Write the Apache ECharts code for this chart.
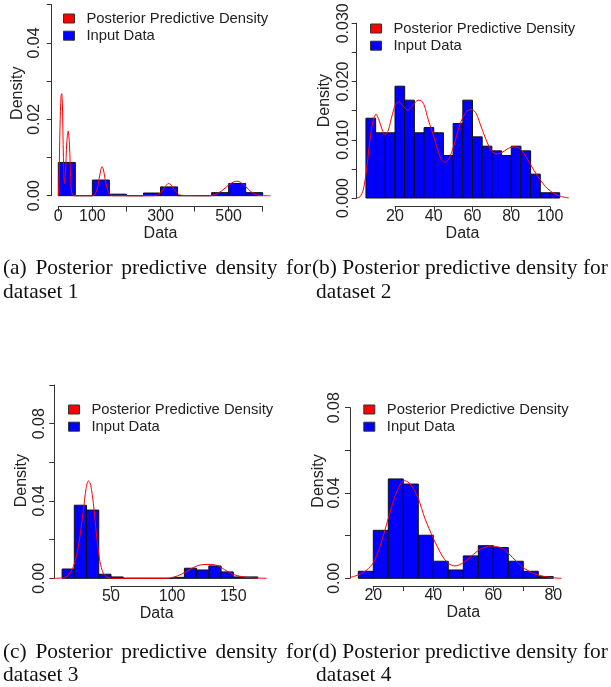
<!DOCTYPE html>
<html>
<head>
<meta charset="utf-8">
<script src="https://cdn.jsdelivr.net/npm/echarts@6/dist/echarts.min.js"></script>
<style>
  html, body { margin: 0; padding: 0; background: #fff; }
  #chart { width: 611px; height: 687px; }
</style>
</head>
<body>
<div id="chart"></div>
<script>
// histogram bin edges and densities
const edgesA = [0, 50, 100, 150, 200, 250, 300, 350, 400, 450, 500, 550, 600];
const heightsA = [0.0087, 0, 0.0041, 0.0004, 0, 0.0007, 0.0023, 0, 0, 0.0008, 0.0032, 0.0008];
const edgesB = [5, 10, 15, 20, 25, 30, 35, 40, 45, 50, 55, 60, 65, 70, 75, 80, 85, 90, 95, 100, 105];
const heightsB = [0.0137, 0.0112, 0.0112, 0.0192, 0.0168, 0.0112, 0.0121, 0.0112, 0.0073, 0.0128,
  0.0168, 0.0105, 0.0089, 0.0081, 0.0073, 0.0089, 0.0081, 0.0041, 0.0009, 0.0009];
const edgesC = [10, 20, 30, 40, 50, 60, 70, 80, 90, 100, 110, 120, 130, 140, 150, 160, 170];
const heightsC = [0.0048, 0.0378, 0.0353, 0.0021, 0.0007, 0, 0, 0, 0, 0.0005, 0.0052, 0.0043, 0.0064, 0.0033, 0.0007, 0.0007];
const edgesD = [15, 20, 25, 30, 35, 40, 45, 50, 55, 60, 65, 70, 75, 80];
const heightsD = [0.0033, 0.0225, 0.0466, 0.0442, 0.0202, 0.0080, 0.0039, 0.0105, 0.0153, 0.0144, 0.0080, 0.0033, 0.0008];

// posterior predictive density curves [x, density]
const densityA = [[0, 0], [2, 0.004], [5, 0.018], [8, 0.026], [10, 0.0267], [12, 0.024], [15, 0.010], [18, 0.0032],
  [21, 0.006], [25, 0.014], [29, 0.0169], [33, 0.013], [36, 0.005], [39, 0.001], [45, 0], [100, 0],
  [108, 0.0005], [115, 0.002], [120, 0.0045], [125, 0.0068], [128, 0.0076], [132, 0.007], [137, 0.0045],
  [143, 0.002], [150, 0.0005], [160, 0], [280, 0], [295, 0.0004], [305, 0.0013], [315, 0.0025], [323, 0.0032],
  [330, 0.0029], [340, 0.0017], [350, 0.0006], [360, 0.0001], [440, 0], [460, 0.0003], [480, 0.0013],
  [500, 0.0028], [515, 0.0036], [525, 0.0038], [535, 0.0035], [550, 0.0024], [565, 0.0011], [580, 0.0003],
  [600, 0], [623, 0]];
const densityB = [[0.3, 0], [1.9, 0.0002], [3.6, 0.0014], [5.3, 0.0048], [7.1, 0.0100], [8.8, 0.0134], [10.2, 0.0144],
  [11.7, 0.0134], [13.4, 0.0117], [14.8, 0.0108], [16.6, 0.0117], [18.6, 0.0143], [20.3, 0.0161], [22.1, 0.0165],
  [24.3, 0.0157], [26.6, 0.0151], [29.0, 0.0158], [31.2, 0.0167], [32.9, 0.0168], [35.0, 0.0160], [37.2, 0.0134],
  [39.8, 0.0108], [42.1, 0.0082], [44.1, 0.0065], [45.9, 0.0061], [47.9, 0.0068], [50.2, 0.0088], [52.4, 0.0114],
  [54.8, 0.0137], [57.1, 0.0149], [59.7, 0.0152], [61.9, 0.0145], [64.5, 0.0122], [67.4, 0.0097], [70.0, 0.0080],
  [72.6, 0.0076], [75.2, 0.0078], [77.8, 0.0084], [81.2, 0.0088], [84.7, 0.0084], [88.1, 0.0068], [91.6, 0.0048],
  [95.0, 0.0031], [98.4, 0.0017], [101.9, 0.0008], [105.3, 0.0003], [109.7, 0]];
const densityC = [[3.7, 0], [11.1, 0.0003], [15.1, 0.0017], [19.2, 0.006], [23.3, 0.0163], [27.4, 0.0353], [29.6, 0.0464],
  [31.5, 0.0504], [33.4, 0.0481], [35.6, 0.0387], [38.3, 0.0215], [41, 0.0086], [43.7, 0.0026], [47, 0.0005],
  [50.5, 0], [95.5, 0], [101, 0.0005], [107.8, 0.0022], [114.6, 0.0046], [122.8, 0.0069], [131, 0.0072],
  [137.7, 0.0064], [144.6, 0.0038], [151.4, 0.0017], [158.2, 0.0007], [166.3, 0.0002], [177.2, 0]];
const densityD = [[12.3, 0.0004], [15, 0.0016], [17.8, 0.0039], [20, 0.0073], [22.2, 0.0148], [25, 0.0281], [27.2, 0.0383],
  [28.9, 0.0438], [30.3, 0.0458], [31.9, 0.0448], [33.3, 0.0422], [35, 0.0375], [37.2, 0.0281], [40, 0.0188],
  [42.8, 0.0109], [45, 0.007], [47.2, 0.0058], [50, 0.0073], [52.8, 0.0105], [55.6, 0.0136], [59.4, 0.0152],
  [62.8, 0.0141], [65.6, 0.0109], [68.9, 0.0063], [72.2, 0.0031], [75.6, 0.0013], [79.4, 0.0003], [82.8, 0]];

// axis ticks [min, max, step] and which of them carry a label
const xTicksA = [0, 600, 100], xLabelsA = [0, 100, 300, 500];
const xTicksB = [20, 100, 20], xLabelsB = [20, 40, 60, 80, 100];
const xTicksC = [50, 150, 50], xLabelsC = [50, 100, 150];
const xTicksD = [20, 80, 10], xLabelsD = [20, 40, 60, 80];
const yTicksA = [0, 0.05, 0.01], yLabelsA = [0, 0.02, 0.04];
const yTicksB = [0, 0.03, 0.005], yLabelsB = [0, 0.01, 0.02, 0.03];
const yTicksC = [0, 0.10, 0.02], yLabelsC = [0, 0.04, 0.08];
const yTicksD = [0, 0.08, 0.02], yLabelsD = [0, 0.04, 0.08];

const captions = [
  ["(a) Posterior predictive density for", "dataset 1"],
  ["(b) Posterior predictive density for", "dataset 2"],
  ["(c) Posterior predictive density for", "dataset 3"],
  ["(d) Posterior predictive density for", "dataset 4"]
];

const SANS = "Liberation Sans, Arial, sans-serif";
const SERIF = "Liberation Serif, Times New Roman, serif";
const INK = "#222";

// px layout of each panel: y axis line x, first/last x tick x, top tick y, zero y, right end of plot
const panels = [
  { edges: edgesA, heights: heightsA, dens: densityA, xt: xTicksA, xl: xLabelsA, yt: yTicksA, yl: yLabelsA, yd: 2,
    yAxisX: 51.7, t0: 58.3, t1: 262.7, top: 4.7, zero: 195.7, right: 280,
    xOff: 11, yMargin: 9.5, yGap: 26.5, xGap: 17, xShift: 0, yShift: 7, legend: { left: 63, top: 11 } },
  { edges: edgesB, heights: heightsB, dens: densityB, xt: xTicksB, xl: xLabelsB, yt: yTicksB, yl: yLabelsB, yd: 3,
    yAxisX: 356.7, t0: 395, t1: 550, top: 23.3, zero: 198, right: 580,
    xOff: 8.7, yMargin: 5, yGap: 23.7, xGap: 17, xShift: 10, yShift: 10, legend: { left: 370, top: 21 } },
  { edges: edgesC, heights: heightsC, dens: densityC, xt: xTicksC, xl: xLabelsC, yt: yTicksC, yl: yLabelsC, yd: 2,
    yAxisX: 54.3, t0: 111, t1: 233.3, top: 385, zero: 578.3, right: 275,
    xOff: 8.4, yMargin: 6.5, yGap: 24.6, xGap: 18.5, xShift: 15.5, yShift: 1, legend: { left: 68, top: 402 } },
  { edges: edgesD, heights: heightsD, dens: densityD, xt: xTicksD, xl: xLabelsD, yt: yTicksD, yl: yLabelsD, yd: 2,
    yAxisX: 350, t0: 373.3, t1: 553.3, top: 407.7, zero: 578.3, right: 575,
    xOff: 7.7, yMargin: 7, yGap: 23.7, xGap: 18.5, xShift: 0, yShift: 12, legend: { left: 363.3, top: 402 } }
];

function labelFmt(labels, digits) {
  return (v) => labels.some((l) => Math.abs(l - v) < 1e-9) ? v.toFixed(digits) : "";
}

function histItem(params, api) {
  const p0 = api.coord([api.value(0), api.value(2)]);
  const p1 = api.coord([api.value(1), 0]);
  return {
    type: "rect",
    shape: { x: p0[0], y: p0[1], width: p1[0] - p0[0], height: p1[1] - p0[1] },
    style: { fill: "#0000ff", stroke: "#111", lineWidth: 1 }
  };
}

const axisLineStyle = { show: true, onZero: false, lineStyle: { color: "#333", width: 1 } };
const axisTickStyle = { show: true, length: 5, lineStyle: { color: "#333" } };
const nameStyle = { fontFamily: SANS, fontSize: 16, color: INK };

const grid = [], xAxis = [], yAxis = [], series = [], legend = [], graphic = [];

panels.forEach((p, i) => {
  const height = p.zero - p.top;
  // the plot region starts at the y axis; its x scale follows the tick positions
  const scale = (p.t1 - p.t0) / (p.xt[1] - p.xt[0]);
  const xlo = p.xt[0] - (p.t0 - p.yAxisX) / scale;
  const xhi = p.xt[1] + (p.right - p.t1) / scale;

  grid.push({ left: p.yAxisX, top: p.top, width: p.right - p.yAxisX, height });
  grid.push({ left: p.t0, top: p.top, width: p.t1 - p.t0, height });

  xAxis.push({ type: "value", gridIndex: 2 * i, min: xlo, max: xhi, show: false });
  xAxis.push({
    type: "value", gridIndex: 2 * i + 1, min: p.xt[0], max: p.xt[1], interval: p.xt[2],
    offset: p.xOff, name: "Data", nameLocation: "middle", nameGap: p.xGap,
    nameTextStyle: Object.assign({ padding: [0, 2 * p.xShift, 0, 0] }, nameStyle),
    axisLine: axisLineStyle, axisTick: axisTickStyle,
    axisLabel: { fontFamily: SANS, fontSize: 16, color: INK, margin: 2, formatter: labelFmt(p.xl, 0), showMinLabel: true, showMaxLabel: true },
    splitLine: { show: false }
  });
  yAxis.push({
    type: "value", gridIndex: 2 * i, min: p.yt[0], max: p.yt[1], interval: p.yt[2],
    name: "Density", nameLocation: "middle", nameGap: p.yGap,
    nameTextStyle: Object.assign({ padding: [0, 0, 0, 2 * p.yShift] }, nameStyle),
    axisLine: axisLineStyle, axisTick: axisTickStyle,
    axisLabel: { fontFamily: SANS, fontSize: 16, color: INK, rotate: 90, margin: p.yMargin, formatter: labelFmt(p.yl, p.yd), showMinLabel: true, showMaxLabel: true },
    splitLine: { show: false }
  });
  yAxis.push({ type: "value", gridIndex: 2 * i + 1, min: 0, max: 1, show: false });

  const bins = p.heights.map((h, k) => [p.edges[k], p.edges[k + 1], h]);
  series.push({
    type: "custom", name: "Input Data", xAxisIndex: 2 * i, yAxisIndex: 2 * i,
    renderItem: histItem, data: bins, encode: { x: [0, 1], y: 2 },
    itemStyle: { color: "#0000ff" }, silent: true, z: 2
  });
  series.push({
    type: "line", name: "Posterior Predictive Density", xAxisIndex: 2 * i, yAxisIndex: 2 * i,
    data: p.dens, smooth: 0.3, showSymbol: false, clip: false, silent: true, z: 3,
    lineStyle: { color: "#ff0000", width: 1 }, itemStyle: { color: "#ff0000" }
  });
  legend.push({
    orient: "vertical", left: p.legend.left, top: p.legend.top, padding: 0,
    itemWidth: 11, itemHeight: 9, itemGap: 2.2, selectedMode: false,
    textStyle: { fontFamily: SANS, fontSize: 14.8, color: INK, padding: [0, 0, 0, 7] },
    data: [
      { name: "Posterior Predictive Density", icon: "rect", itemStyle: { color: "#ff0000", borderColor: "#333", borderWidth: 1 } },
      { name: "Input Data", icon: "rect", itemStyle: { color: "#0000ff", borderColor: "#333", borderWidth: 1 } }
    ]
  });
});

// sub-figure captions; the left ones are justified out to x = 311
const capFont = "21.4px " + SERIF;
const ctx = document.createElement("canvas").getContext("2d");
ctx.font = capFont;
function justified(text, x0, x1, y) {
  const words = text.split(" ");
  const widths = words.map((w) => ctx.measureText(w).width);
  const gap = (x1 - x0 - widths.reduce((s, w) => s + w, 0)) / (words.length - 1);
  let x = x0;
  words.forEach((w, k) => {
    graphic.push({ type: "text", x, y, style: { text: w, font: capFont, fill: "#111", verticalAlign: "middle" } });
    x += widths[k] + gap;
  });
}
function plain(text, x, y) {
  graphic.push({ type: "text", x, y, style: { text, font: capFont, fill: "#111", verticalAlign: "middle" } });
}
justified(captions[0][0], 3, 311, 268);
plain(captions[0][1], 3, 292);
plain(captions[1][0], 312, 268);
plain(captions[1][1], 316, 292);
justified(captions[2][0], 3, 311, 652);
plain(captions[2][1], 3, 675);
plain(captions[3][0], 312, 652);
plain(captions[3][1], 316, 675);

const chart = echarts.init(document.getElementById("chart"), null, { renderer: "canvas" });
chart.setOption({
  backgroundColor: "#fff",
  animation: false,
  grid, xAxis, yAxis, series, legend, graphic
});
</script>
</body>
</html>
